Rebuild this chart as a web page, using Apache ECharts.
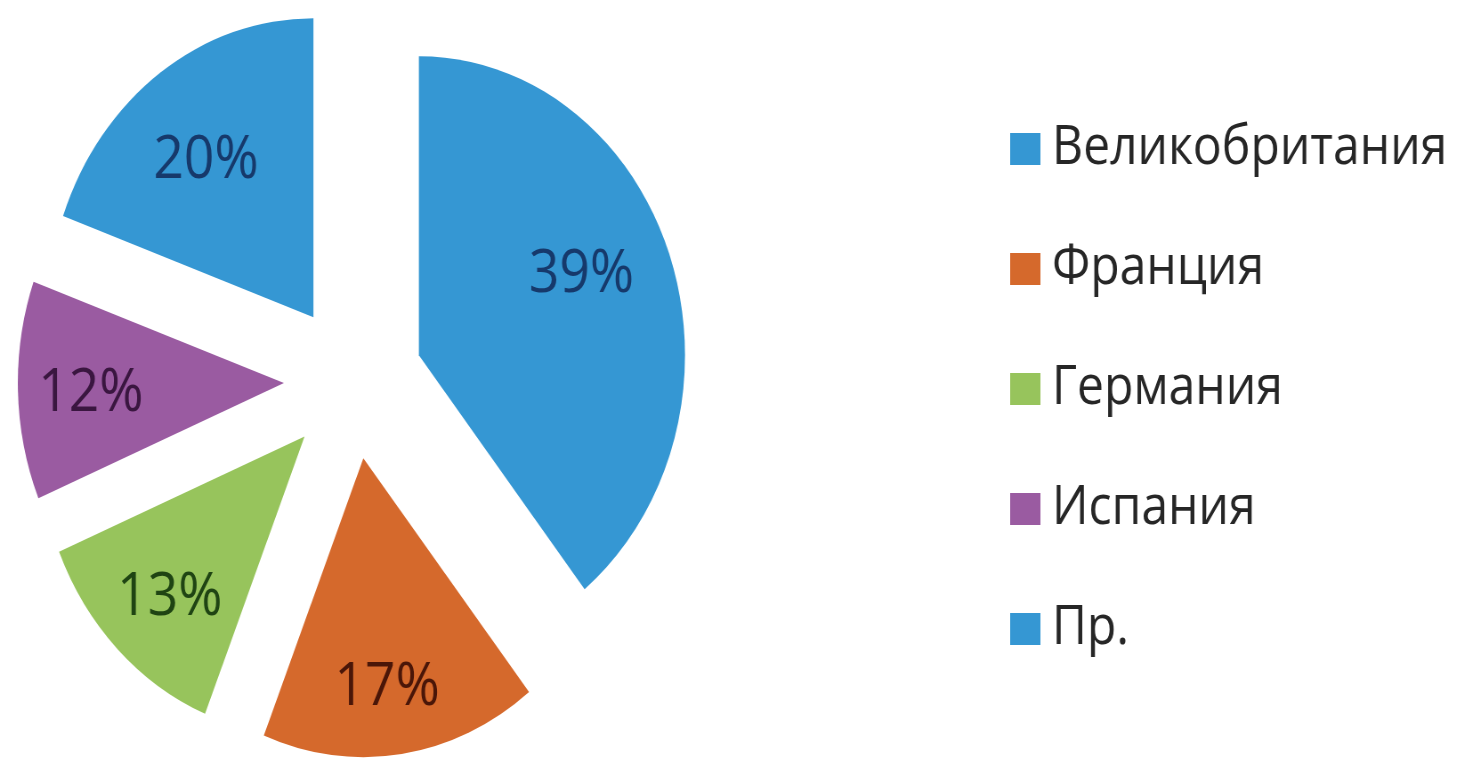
<!DOCTYPE html>
<html>
<head>
<meta charset="utf-8">
<script src="https://cdn.jsdelivr.net/npm/echarts@6/dist/echarts.min.js"></script>
<style>
html,body{margin:0;padding:0;background:#fff;overflow:hidden;width:1466px;height:761px;}
#main{width:1647px;height:761px;transform:scaleX(0.89);transform-origin:0 0;}
</style>
</head>
<body>
<div id="main"></div>
<script>
const categories = ['Великобритания', 'Франция', 'Германия', 'Испания', 'Пр.'];
// slice sizes
const shares = [39.3, 16.8, 12.6, 11.8, 19.5];
// printed percentage labels
const shareLabels = ['39%', '17%', '13%', '12%', '20%'];
const sliceColors = ['#3597d3', '#d5692c', '#97c45c', '#9a5ba1', '#3597d3'];
const labelColors = ['#16396b', '#4a1608', '#1f4413', '#3a1640', '#16396b'];
const smallSlices = ['Франция', 'Германия', 'Испания'];
// small fine-tuning nudges of the percentage labels (style only)
const labelNudges = [[-9, -13], [-6, 5], [8, 0], [10, 5], [-4, 10]];

const FONT = '"Open Sans", "DejaVu Sans", sans-serif';
const CENTER = [397, 381];
const R = 299;
const OFFSET = 78;

function hPadding(n) {
  const dx = n[0];
  return [0, Math.max(0, -2 * dx), 0, Math.max(0, 2 * dx)];
}

function labelText(i) {
  const dy = labelNudges[i][1];
  const t = '{t|' + shareLabels[i] + '}';
  if (dy < 0) return t + '\n{s| }';
  if (dy > 0) return '{s| }\n' + t;
  return t;
}

function baseData() {
  return categories.map((n, i) => ({
    name: n, value: shares[i], selected: true,
    itemStyle: { color: sliceColors[i] }
  }));
}

function labelData(showSmall) {
  return categories.map((n, i) => {
    const isSmall = smallSlices.indexOf(n) >= 0;
    return {
      name: n, value: shares[i], selected: true,
      itemStyle: { color: 'rgba(0,0,0,0)' },
      label: {
        show: isSmall === showSmall,
        formatter: labelText(i),
        rich: {
          t: { fontFamily: FONT, fontSize: 60, lineHeight: 60, color: labelColors[i], padding: hPadding(labelNudges[i]) },
          s: { fontSize: 2, lineHeight: Math.abs(2 * labelNudges[i][1]) }
        }
      }
    };
  });
}

const common = {
  type: 'pie',
  center: CENTER,
  startAngle: 90,
  clockwise: true,
  selectedMode: 'multiple',
  selectedOffset: OFFSET,
  silent: true,
  animation: false,
  labelLine: { show: false },
  emphasis: { disabled: true }
};

const chart = echarts.init(document.getElementById('main'), null, { renderer: 'canvas' });
chart.setOption({
  animation: false,
  legend: {
    orient: 'vertical',
    left: 1130,
    top: 114,
    itemWidth: 34,
    itemHeight: 32,
    itemGap: 60,
    icon: 'rect',
    selectedMode: false,
    textStyle: { fontFamily: FONT, fontSize: 54, color: '#262626', lineHeight: 60, padding: [0, 0, 0, 8] },
    data: categories.map((n, i) => ({ name: n, itemStyle: { color: sliceColors[i] } }))
  },
  series: [
    Object.assign({}, common, {
      name: 'base',
      radius: [0, R],
      label: { show: false },
      data: baseData()
    }),
    Object.assign({}, common, {
      name: 'labelsBig',
      radius: [101, R],
      label: { show: true, position: 'inside', fontFamily: FONT, fontSize: 60 },
      data: labelData(false)
    }),
    Object.assign({}, common, {
      name: 'labelsSmall',
      radius: [149, R],
      label: { show: true, position: 'inside', fontFamily: FONT, fontSize: 60 },
      data: labelData(true)
    })
  ]
});
</script>
</body>
</html>
